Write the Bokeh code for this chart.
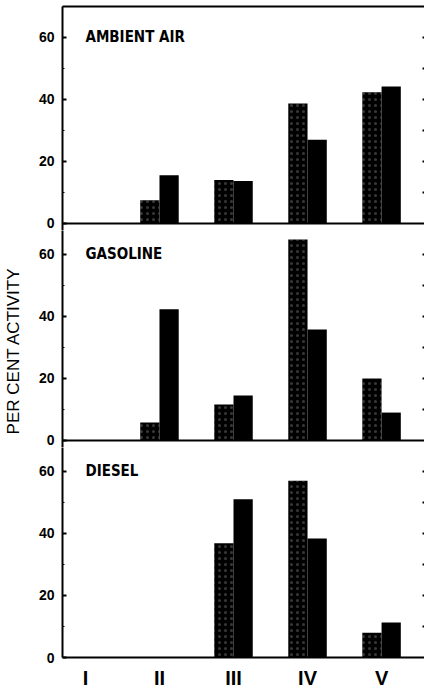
from bokeh.plotting import figure
from bokeh.layouts import column
from bokeh.models import Range1d, FixedTicker, LinearAxis, Label, Span, ColumnDataSource
from bokeh.transform import dodge
from bokeh.embed import file_html
from bokeh.resources import INLINE

categories = ["I", "II", "III", "IV", "V"]
panel_titles = ["AMBIENT AIR", "GASOLINE", "DIESEL"]
ambient_left = [0, 7.5, 14.0, 38.7, 42.3]
ambient_right = [0, 15.6, 13.7, 27.0, 44.2]
gasoline_left = [0, 5.8, 11.6, 64.8, 20.0]
gasoline_right = [0, 42.3, 14.5, 35.8, 9.0]
diesel_left = [0, 0, 36.8, 57.0, 8.0]
diesel_right = [0, 0, 51.0, 38.4, 11.3]
y_ticks = [0, 20, 40, 60]
y_minor_ticks = [10, 30, 50]
right_ticks = [10, 20, 30, 40, 50, 60]
y_axis_title = "PER CENT ACTIVITY"

X = list(range(1, len(categories) + 1))
SCALE = 3.1
FRAME_W = 362
X_RANGE = (0.69, 5.58)
TOP1 = 70.0
TOP = 67.7
LOW = -2.26
BOLD = "Liberation Sans"

specs = [
    dict(title=panel_titles[0], left=ambient_left, right=ambient_right, y0=LOW, y1=TOP1, top=6, bottom=0, last=False),
    dict(title=panel_titles[1], left=gasoline_left, right=gasoline_right, y0=LOW, y1=TOP, top=0, bottom=0, last=False),
    dict(title=panel_titles[2], left=diesel_left, right=diesel_right, y0=0, y1=TOP, top=0, bottom=37, last=True),
]

figs = []
for i, s in enumerate(specs):
    fh = round((s["y1"] - s["y0"]) * SCALE)
    p = figure(frame_width=FRAME_W, frame_height=fh,
               x_range=Range1d(*X_RANGE), y_range=Range1d(s["y0"], s["y1"]),
               output_backend="svg", toolbar_location=None,
               x_axis_location=None, y_axis_location=None,
               min_border_left=62, min_border_right=0,
               min_border_top=s["top"], min_border_bottom=s["bottom"])
    p.outline_line_color = None
    p.grid.visible = False

    ya = LinearAxis(ticker=FixedTicker(ticks=y_ticks, minor_ticks=y_minor_ticks),
                    axis_line_width=2, major_tick_in=4, major_tick_out=0,
                    minor_tick_in=2, minor_tick_out=0, major_tick_line_width=2,
                    major_label_text_font=BOLD, major_label_text_font_style="bold",
                    major_label_text_font_size="14px", major_label_standoff=8,
                    major_label_text_color="black")
    if i == 1:
        ya.axis_label = y_axis_title + "\u00a0" * 5
        ya.axis_label_standoff = 13
        ya.axis_label_text_font = "Liberation Sans"
        ya.axis_label_text_font_style = "normal"
        ya.axis_label_text_font_size = "17px"
        ya.axis_label_text_color = "black"
    p.add_layout(ya, "left")

    ra = LinearAxis(ticker=FixedTicker(ticks=right_ticks), axis_line_color=None,
                    major_tick_in=2, major_tick_out=0, major_tick_line_width=2,
                    minor_tick_line_color=None,
                    major_label_overrides={t: "" for t in right_ticks},
                    major_label_standoff=0)
    p.add_layout(ra, "right")

    if i == 0:
        ta = LinearAxis(ticker=FixedTicker(ticks=[]), axis_line_width=2,
                        major_tick_in=0, major_tick_out=0, minor_tick_in=0, minor_tick_out=0,
                        major_label_standoff=0)
        p.add_layout(ta, "above")

    if s["last"]:
        xa = LinearAxis(ticker=FixedTicker(ticks=X), axis_line_width=2,
                        major_tick_in=0, major_tick_out=0, minor_tick_in=0, minor_tick_out=0,
                        major_label_overrides={x: c for x, c in zip(X, categories)},
                        major_label_text_font=BOLD, major_label_text_font_style="bold",
                        major_label_text_font_size="20px", major_label_standoff=9,
                        major_label_text_color="black")
        p.add_layout(xa, "below")
    else:
        p.add_layout(Span(location=0, dimension="width", line_width=2, line_color="black"))

    src = ColumnDataSource(dict(x=X, left=s["left"], right=s["right"]))
    p.vbar(x=dodge("x", -0.13, range=p.x_range), top="left", width=0.26, source=src,
           fill_color="black", line_color=None,
           hatch_pattern="dot", hatch_color="white", hatch_alpha=0.22,
           hatch_scale=6, hatch_weight=0.4)
    p.vbar(x=dodge("x", 0.13, range=p.x_range), top="right", width=0.26, source=src,
           fill_color="black", line_color=None)

    p.add_layout(Label(x=1.0, y=60, text=s["title"], text_baseline="middle",
                       text_font="DejaVu Sans Condensed", text_font_style="bold",
                       text_font_size="15px", text_color="black"))
    figs.append(p)

layout = column(*figs)
open("out.html", "w").write(file_html(layout, INLINE))
